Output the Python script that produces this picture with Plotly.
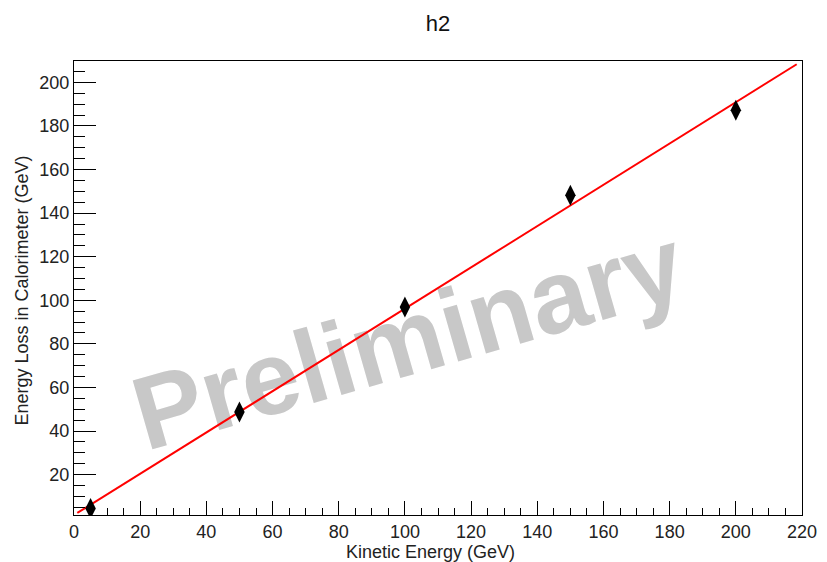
import plotly.graph_objects as go

# Data
kinetic_energy = [5, 50, 100, 150, 200]
energy_loss = [4.5, 48.7, 96.9, 148.2, 187.2]

# Fitted line endpoints (as drawn)
fit_x = [1.0, 218.4]
fit_y = [2.4, 208.3]

title_text = "h2"
x_title = "Kinetic Energy (GeV)"
y_title = "Energy Loss in Calorimeter (GeV)"
watermark = "Preliminary"

FONT = "Liberation Sans, Arial, sans-serif"

fig = go.Figure()
fig.add_trace(go.Scatter(
    x=fit_x, y=fit_y, mode="lines",
    line=dict(color="#ff0000", width=2),
    showlegend=False, hoverinfo="skip",
))
fig.add_trace(go.Scatter(
    x=kinetic_energy, y=energy_loss, mode="markers",
    marker=dict(symbol="diamond-tall", size=15, color="black"),
    showlegend=False,
))

fig.add_shape(
    type="rect", xref="paper", yref="paper",
    x0=0.345, x1=0.565, y0=0.35, y1=0.47,
    line=dict(width=0), fillcolor="rgba(0,0,0,0)", layer="below",
    label=dict(text=watermark, textangle=-16, textposition="middle center",
               font=dict(family=FONT, size=104, color="#c8c8c8", weight="bold")),
)

axis_common = dict(
    showline=True, linecolor="black", linewidth=1, mirror=True,
    showgrid=False, zeroline=False, automargin=False,
    ticks="inside", tickcolor="black", tickwidth=1,
    tickfont=dict(family=FONT, size=18, color="#222222"),
)

fig.update_xaxes(
    range=[0, 220], tick0=0, dtick=20, ticklen=14,
    minor=dict(ticks="inside", dtick=5, tick0=0, ticklen=7, tickcolor="black"),
    **axis_common,
)
fig.update_yaxes(
    range=[1.47, 209.8], tick0=0, dtick=20, ticklen=22,
    minor=dict(ticks="inside", dtick=5, tick0=0, ticklen=11, tickcolor="black"),
    **axis_common,
)

fig.add_annotation(text=x_title, xref="paper", yref="paper", x=0.49, y=-0.082,
                   yanchor="middle", xanchor="center", showarrow=False,
                   font=dict(family=FONT, size=18, color="#222222"))
fig.add_annotation(text=y_title, xref="paper", yref="paper", x=-0.071, y=0.495,
                   xanchor="center", yanchor="middle", textangle=-90, showarrow=False,
                   font=dict(family=FONT, size=18, color="#222222"))

fig.update_layout(
    width=827, height=562,
    margin=dict(l=74, r=25, t=61, b=47, autoexpand=False),
    paper_bgcolor="white", plot_bgcolor="white",
    title=dict(text=title_text, x=0.5, xref="paper", y=1 - 23 / 562, yanchor="middle",
               font=dict(family=FONT, size=22, color="#111111")),
)

fig.write_html("out.html", config={"displayModeBar": False},
               post_script="document.body.style.margin='0';document.body.style.overflow='hidden';")
